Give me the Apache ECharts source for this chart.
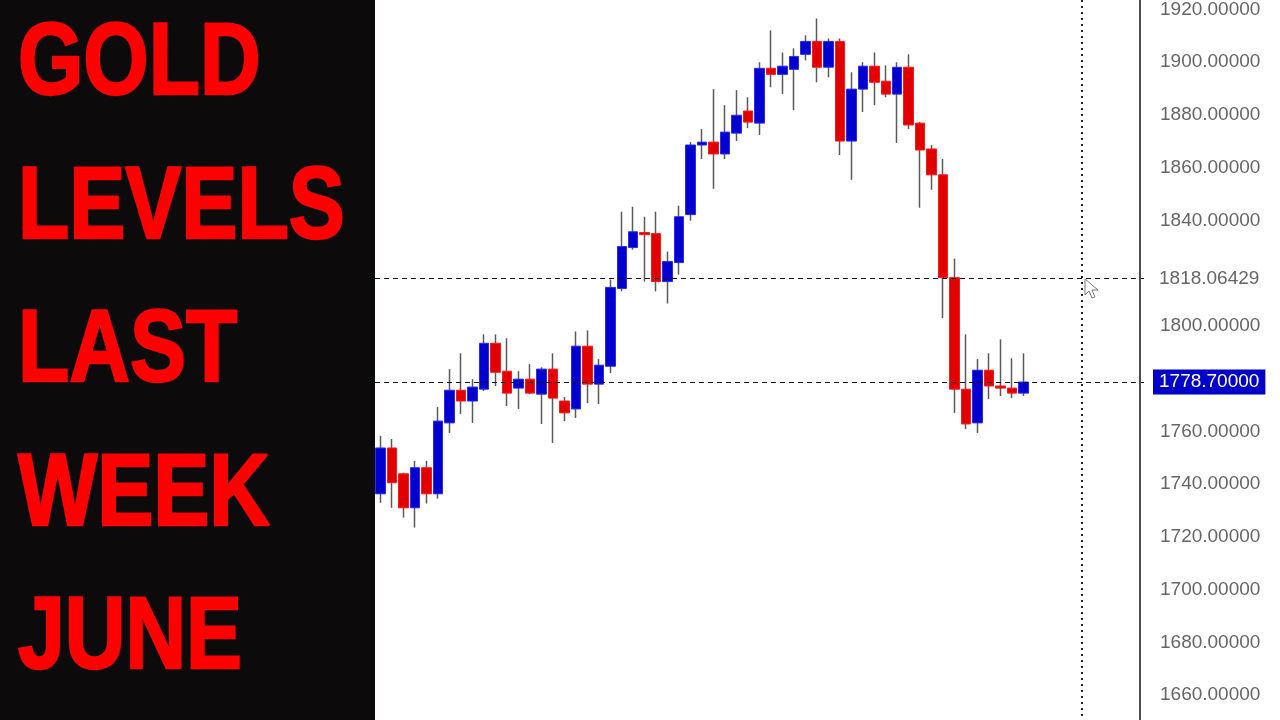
<!DOCTYPE html>
<html>
<head>
<meta charset="utf-8">
<script src="https://cdn.jsdelivr.net/npm/echarts@6/dist/echarts.min.js"></script>
<style>html,body{margin:0;padding:0;background:#fff;}#c{width:1280px;height:720px;}</style>
</head>
<body>
<div id="c"></div>
<script>
// ---- data ----
const titleLines = ['GOLD', 'LEVELS', 'LAST', 'WEEK', 'JUNE'];
const opens  = [1736.3,1753.7,1743.9,1731.0,1746.2,1736.3,1763.2,1775.6,1771.5,1776.0,1793.4,1782.8,1776.4,1779.8,1774.1,1783.6,1771.5,1768.5,1792.3,1777.9,1784.7,1814.2,1829.7,1835.4,1835.0,1816.8,1824.0,1842.2,1868.6,1869.7,1865.2,1873.1,1881.5,1876.9,1897.7,1895.4,1897.3,1903.0,1907.9,1898.1,1907.9,1870.1,1889.8,1898.5,1892.8,1887.9,1898.1,1876.9,1867.1,1857.3,1818.3,1776.0,1763.2,1783.2,1777.2,1776.4,1774.5];
const closes = [1753.7,1740.5,1731.0,1746.2,1736.3,1763.9,1775.6,1771.5,1776.8,1793.4,1782.4,1774.5,1779.8,1774.5,1783.6,1772.6,1767.0,1792.3,1777.9,1785.1,1814.6,1830.1,1835.7,1834.6,1816.8,1824.4,1841.4,1868.6,1869.7,1865.2,1873.5,1879.9,1877.3,1897.7,1895.4,1898.5,1902.2,1907.9,1898.1,1907.9,1870.1,1889.8,1898.5,1892.4,1887.9,1898.1,1876.2,1866.7,1857.3,1818.3,1776.0,1762.8,1783.2,1777.2,1776.4,1774.5,1778.7];
const lows   = [1732.9,1731.0,1727.3,1723.5,1732.6,1734.5,1759.4,1766.6,1763.2,1775.3,1777.2,1769.6,1768.5,1774.1,1762.8,1755.6,1763.9,1765.1,1770.7,1770.4,1782.1,1813.1,1828.9,1816.8,1813.1,1808.5,1819.5,1839.9,1863.3,1852.0,1863.3,1870.1,1875.0,1872.4,1890.5,1887.9,1881.8,1900.7,1892.4,1894.3,1864.8,1855.4,1881.1,1883.7,1886.7,1869.4,1874.7,1844.8,1851.6,1802.9,1767.0,1760.9,1759.4,1772.2,1773.4,1772.6,1773.4];
const highs  = [1758.3,1757.1,1744.3,1748.8,1748.8,1769.2,1783.6,1789.6,1779.8,1796.8,1796.8,1795.3,1782.8,1785.5,1784.3,1789.6,1773.0,1797.9,1798.3,1787.4,1817.6,1843.3,1845.2,1841.4,1843.3,1828.2,1845.6,1869.7,1874.7,1889.8,1883.7,1889.4,1886.7,1900.0,1912.1,1903.7,1905.3,1910.2,1916.6,1909.0,1909.0,1896.2,1900.0,1903.7,1898.8,1900.0,1903.0,1877.3,1868.6,1863.3,1825.5,1796.8,1787.4,1789.6,1794.9,1787.7,1789.6];
const totalSlots = 67;              // bars plus empty space on the right
const levelLines = [1818.06429, 1778.70000];
const currentPrice = 1778.70000;
const yMin = 1660, yMax = 1920, yStep = 20;

// ---- build ----
const categories = [];
for (let i = 0; i < totalSlots; i++) categories.push(String(i + 1));
const wickData = [], bodyData = [];
for (let i = 0; i < totalSlots; i++) {
  if (i < opens.length) {
    const o = opens[i], c = closes[i];
    wickData.push([o, c, lows[i], highs[i]]);
    bodyData.push([o, c, Math.min(o, c), Math.max(o, c)]);
  } else {
    wickData.push('-'); bodyData.push('-');
  }
}

const chart = echarts.init(document.getElementById('c'), null, {renderer: 'canvas'});
const graphics = [
  {type: 'rect', left: 0, top: 0, shape: {x: 0, y: 0, width: 375, height: 720}, style: {fill: '#0c0a0b'}, z: 0},
  {type: 'line', shape: {x1: 1140, y1: 0, x2: 1140, y2: 720}, style: {stroke: '#4a4a4a', lineWidth: 2}, z: 10},
  {type: 'line', shape: {x1: 1082, y1: 0, x2: 1082, y2: 720}, style: {stroke: '#222', lineWidth: 2, lineDash: [2, 4]}, z: 10}
];
titleLines.forEach((t, k) => {
  graphics.push({
    type: 'text', x: 18, y: 66 + k * 143.6, scaleX: 0.8, scaleY: 0.97, z: 20,
    style: {text: t, x: 0, y: 0, font: 'bold 105px "Liberation Sans", Arial, sans-serif',
      fill: '#ff0000', stroke: '#ff0000', lineWidth: 2.5, lineJoin: 'round', textAlign: 'left', textVerticalAlign: 'middle'}
  });
});
// mouse cursor decoration
graphics.push({
  type: 'polygon', z: 30,
  shape: {points: [[1085,279],[1085,295],[1089,291],[1092,298],[1095,297],[1092,290],[1098,290]]},
  style: {fill: '#fff', stroke: '#777', lineWidth: 1}
});

const option = {
  animation: false,
  backgroundColor: '#ffffff',
  grid: {left: 375, right: 136, top: 7, bottom: 25, containLabel: false},
  xAxis: {
    type: 'category', data: categories, boundaryGap: true,
    axisLine: {show: false}, axisTick: {show: false}, axisLabel: {show: false}, splitLine: {show: false}
  },
  yAxis: {
    type: 'value', position: 'right', min: yMin, max: yMax, interval: yStep,
    axisLine: {show: false}, axisTick: {show: false}, splitLine: {show: false},
    axisLabel: {
      margin: 16, color: '#666', fontSize: 19, fontFamily: '"Liberation Sans", Arial, sans-serif',
      formatter: v => (v === 1820 ? '' : v.toFixed(5))
    }
  },
  series: [
    {
      name: 'wick', type: 'candlestick', data: wickData, barWidth: 1,
      itemStyle: {color: '#5a5a5a', color0: '#5a5a5a', borderColor: '#5a5a5a', borderColor0: '#5a5a5a', borderWidth: 1.5},
      z: 2
    },
    {
      name: 'body', type: 'candlestick', data: bodyData, barWidth: 10,
      itemStyle: {color: '#0000cc', color0: '#e00000', borderColor: '#2a2aff', borderColor0: '#ff1a1a', borderWidth: 1},
      z: 3,
      markLine: {
        silent: true, symbol: 'none', animation: false,
        data: [
          {yAxis: levelLines[0], lineStyle: {color: '#111', width: 1.2, type: [5, 4]},
            label: {show: true, position: 'end', distance: 9, formatter: levelLines[0].toFixed(5),
              color: '#666', fontSize: 19, fontFamily: '"Liberation Sans", Arial, sans-serif',
              backgroundColor: '#fff', padding: [2, 6]}},
          {yAxis: levelLines[1], lineStyle: {color: '#111', width: 1.2, type: [5, 4]},
            label: {show: true, position: 'end', distance: 9, formatter: currentPrice.toFixed(5),
              color: '#fff', fontSize: 19, fontFamily: '"Liberation Sans", Arial, sans-serif',
              backgroundColor: '#0000c8', padding: [3, 6]}}
        ]
      }
    }
  ],
  graphic: graphics
};
chart.setOption(option);
</script>
</body>
</html>
